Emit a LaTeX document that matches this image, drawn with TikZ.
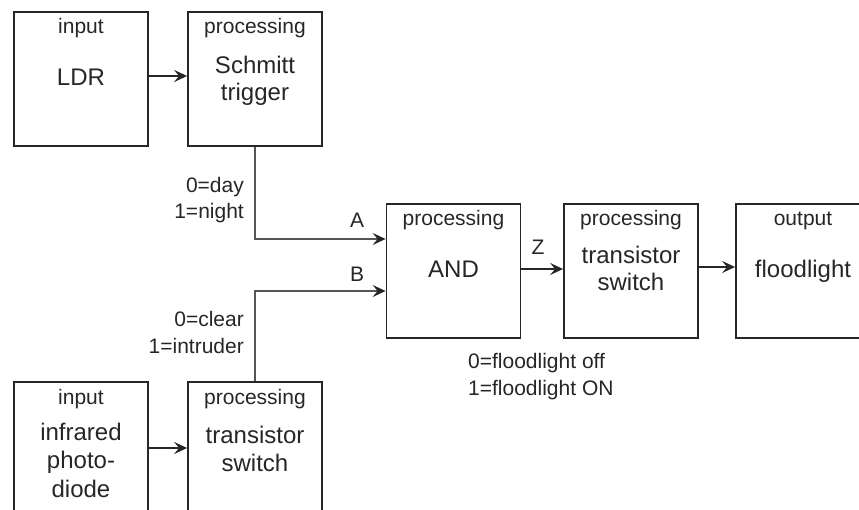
\documentclass[tikz,border=0pt]{standalone}
\usepackage{fontspec}
\setmainfont{Liberation Sans}
\usetikzlibrary{arrows.meta}
\definecolor{ink}{HTML}{262626}
\definecolor{wire}{HTML}{555555}
\begin{document}
\begin{tikzpicture}[x=1pt,y=-1pt,
  box/.style={draw=ink,line width=1.8pt,minimum width=134pt,minimum height=134pt,inner sep=0pt},
  small/.style={anchor=base,inner sep=0pt,text=ink,font=\fontsize{21}{25}\selectfont},
  big/.style={anchor=base,inner sep=0pt,text=ink,font=\fontsize{24}{28}\selectfont},
  note/.style={anchor=base east,inner sep=0pt,text=ink,font=\fontsize{21}{25}\selectfont},
  thick arrow/.style={draw=ink,line width=2.3pt,-{Stealth[length=13pt,width=12pt,inset=5pt]}},
  thin arrow/.style={draw=wire,line width=1.3pt,-{Stealth[length=13pt,width=12pt,inset=5pt,color=ink]}}]
\useasboundingbox (0,0) rectangle (859,510);
\clip (0,0) rectangle (859,510);
% boxes
\node[box] (ldr) at (81,79) {};
\node[box] (schmitt) at (255,79) {};
\node[box] (ir) at (81,449) {};
\node[box] (tsb) at (255,449) {};
\node[box] (and) at (453.5,271) {};
\node[box] (tsm) at (631,271) {};
\node[box] (flood) at (803,271) {};
% texts in boxes
\node[small] (t1) at (81,34) {input};
\node[big] (t2) at (81,86) {LDR};
\node[small] (t3) at (255,34) {processing};
\node[big] (t4) at (255,74) {Schmitt};
\node[big] (t5) at (255,101) {trigger};
\node[small] (t6) at (81,404) {input};
\node[big] (t7) at (81,440) {infrared};
\node[big] (t8) at (81,468) {photo-};
\node[big] (t9) at (81,497) {diode};
\node[small] (t10) at (255,404) {processing};
\node[big] (t11) at (255,443) {transistor};
\node[big] (t12) at (255,471) {switch};
\node[small] (t13) at (453.5,226) {processing};
\node[big] (t14) at (453.5,278) {AND};
\node[small] (t15) at (631,226) {processing};
\node[big] (t16) at (631,264) {transistor};
\node[big] (t17) at (631,291) {switch};
\node[small] (t18) at (803,226) {output};
\node[big] (t19) at (803,278) {floodlight};
% annotations
\node[note] (n1) at (244,193) {0=day};
\node[note] (n2) at (244,219) {1=night};
\node[note] (n3) at (244,327) {0=clear};
\node[note] (n4) at (244,353) {1=intruder};
\node[small] (la) at (357,228) {A};
\node[small] (lb) at (357,282) {B};
\node[small] (lz) at (538,255) {Z};
\node[small,anchor=base west] (n5) at (468,369) {0=floodlight off};
\node[small,anchor=base west] (n6) at (468,395) {1=floodlight ON};
% connectors
\draw[thick arrow] ([yshift=3pt]ldr.east) -- ([yshift=3pt]schmitt.west);
\draw[thick arrow] ([yshift=1pt]ir.east) -- ([yshift=1pt]tsb.west);
\draw[thin arrow] (schmitt.south) |- ([yshift=32pt]and.west);
\draw[thin arrow] (tsb.north) |- ([yshift=-20pt]and.west);
\draw[thick arrow] ([yshift=2pt]and.east) -- ([yshift=2pt]tsm.west);
\draw[thick arrow] ([yshift=4pt]tsm.east) -- ([yshift=4pt]flood.west);
\end{tikzpicture}
\end{document}
